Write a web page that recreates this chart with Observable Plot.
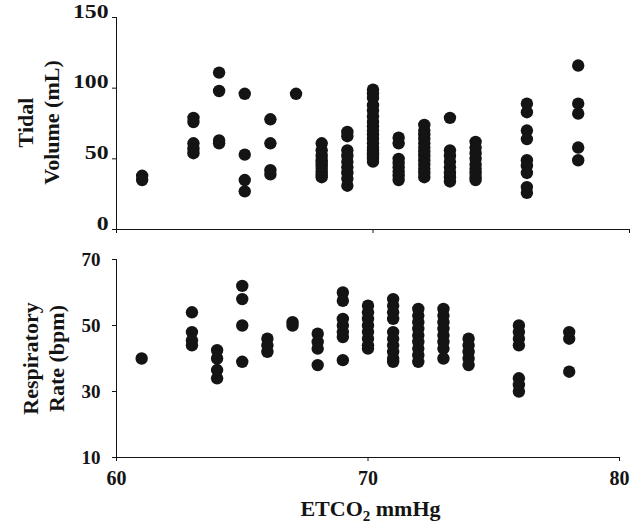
<!DOCTYPE html>
<html><head><meta charset="utf-8">
<script src="https://cdn.jsdelivr.net/npm/d3@7"></script>
<script src="https://cdn.jsdelivr.net/npm/@observablehq/plot@0.6"></script>
<style>
body{margin:0;background:#fff;}
#chart{position:relative;width:641px;height:523px;}
#chart svg{display:block;}
</style></head><body><div id="chart"></div>
<script>
// ETCO2 levels (mmHg) at which measurements were taken
const etco2Levels = [61, 63, 64, 65, 66, 67, 68, 69, 70, 71, 72, 73, 74, 76, 78];
// Tidal volume (mL) readings for each ETCO2 level
const tidalVolume = [
  [38, 35],
  [79, 76, 61, 57, 54],
  [111, 98, 63, 61],
  [96, 53, 35, 27],
  [78, 61, 42, 39],
  [96],
  [61, 56, 52, 49, 47, 45, 43, 41, 39, 37],
  [69, 66, 56, 52, 48, 44, 40, 36, 31],
  [99, 96, 93, 88, 84, 80, 76, 73, 70, 67, 64, 61, 58, 56, 54, 52, 50, 48],
  [65, 61, 50, 47, 44, 41, 38, 35],
  [74, 70, 67, 64, 61, 58, 55, 52, 49, 46, 43, 40, 37],
  [79, 56, 52, 48, 44, 40, 37, 34],
  [62, 58, 54, 50, 46, 43, 40, 37, 35],
  [89, 83, 70, 64, 49, 45, 40, 30, 26],
  [116, 89, 82, 58, 49]
];
// Respiratory rate (bpm) readings for each ETCO2 level
const respRate = [
  [40],
  [54, 48, 45.5, 44],
  [42.5, 40, 36.5, 34],
  [62, 58, 50, 39],
  [46, 44, 42],
  [51, 50],
  [47.5, 45, 43, 38],
  [60, 57.5, 52, 50, 48, 46.5, 39.5],
  [56, 54, 52, 50, 48, 46, 44, 43],
  [58, 56, 54, 52, 48, 46, 44, 42, 40, 39],
  [55, 53, 51, 49, 47, 45, 43, 41, 39],
  [55, 53, 51, 49, 47, 45, 43, 40],
  [46, 44, 42, 40, 38],
  [50, 48, 46, 44, 34, 32, 30],
  [48, 46, 36]
];
const xTicks = [60, 70, 80];
const tidalTicks = [0, 50, 100, 150];
const rateTicks = [10, 30, 50, 70];

const tidalData = etco2Levels.flatMap((e, i) => tidalVolume[i].map(v => ({etco2: e, v})));
const rateData = etco2Levels.flatMap((e, i) => respRate[i].map(v => ({etco2: e, v})));

const FONT = "'Liberation Serif', 'Times New Roman', serif";
const INK = "#141414";
const baseStyle = {fontFamily: FONT, fontWeight: "bold", fontSize: "19px", color: INK, background: "white"};

const topPlot = Plot.plot({
  width: 641, height: 240,
  marginLeft: 116, marginRight: 12, marginTop: 17, marginBottom: 11,
  style: baseStyle,
  x: {domain: [60, 80]},
  y: {domain: [0, 150]},
  marks: [
    Plot.axisY({ticks: tidalTicks, tickSize: 4, tickPadding: 4, label: null, fontSize: 19}),
    Plot.axisX({ticks: xTicks, tickSize: 4, tickFormat: () => "", label: null}),
    Plot.ruleX([60], {stroke: INK}),
    Plot.ruleY([0], {stroke: INK}),
    Plot.dot(tidalData, {x: "etco2", y: "v", r: 6.2, fill: INK, stroke: "none"}),
    Plot.text(["Tidal\nVolume (mL)"], {text: d => d, frameAnchor: "left", textAnchor: "middle", lineAnchor: "middle",
      dx: -79, dy: -1, rotate: -90, fontSize: 22, lineHeight: 1.18, fontWeight: "bold", fill: INK})
  ]
});

const bottomPlot = Plot.plot({
  width: 641, height: 283,
  marginLeft: 116, marginRight: 22, marginTop: 19, marginBottom: 66,
  style: baseStyle,
  x: {domain: [60, 80]},
  y: {domain: [10, 70]},
  marks: [
    Plot.axisY({ticks: rateTicks, tickSize: 4, tickPadding: 12, label: null, fontSize: 19}),
    Plot.axisX({ticks: xTicks, tickSize: 4, tickPadding: 9, label: null, fontSize: 20}),
    Plot.ruleX([60], {stroke: INK}),
    Plot.ruleY([10], {stroke: INK}),
    Plot.dot(rateData, {x: "etco2", y: "v", r: 6.2, fill: INK, stroke: "none"}),
    Plot.text(["Respiratory\nRate (bpm)"], {text: d => d, frameAnchor: "left", textAnchor: "middle", lineAnchor: "middle",
      dx: -74, dy: 0, rotate: -90, fontSize: 22, lineHeight: 1.18, fontWeight: "bold", fill: INK}),
    Plot.text(["ETCO2 mmHg"], {text: d => d, frameAnchor: "bottom", lineAnchor: "middle", dx: 2.5, dy: 51,
      fontSize: 22, fontWeight: "bold", fill: INK})
  ]
});

// widen the top panel's y tick labels as in the reference
function widen(svg, sx) {
  svg.querySelectorAll('g[aria-label="y-axis tick label"] text').forEach(t => {
    const x = +t.getAttribute("x") || 0, y = +t.getAttribute("y") || 0;
    t.removeAttribute("x"); t.removeAttribute("y");
    const tr = t.getAttribute("transform") || "";
    t.setAttribute("transform", `${tr} translate(${x},${y}) scale(${sx},1)`);
  });
}
widen(topPlot, 1.25);

// subscript in axis title
bottomPlot.querySelectorAll("text").forEach(t => {
  if (t.textContent === "ETCO2 mmHg") {
    t.textContent = "";
    const ns = "http://www.w3.org/2000/svg";
    const a = document.createElementNS(ns, "tspan"); a.textContent = "ETCO";
    const b = document.createElementNS(ns, "tspan"); b.textContent = "2";
    b.setAttribute("dy", "5"); b.setAttribute("font-size", "15");
    const c = document.createElementNS(ns, "tspan"); c.textContent = " mmHg";
    c.setAttribute("dy", "-5");
    t.append(a, b, c);
  }
});

const chart = document.getElementById("chart");
chart.append(topPlot, bottomPlot);
</script>
</body></html>
